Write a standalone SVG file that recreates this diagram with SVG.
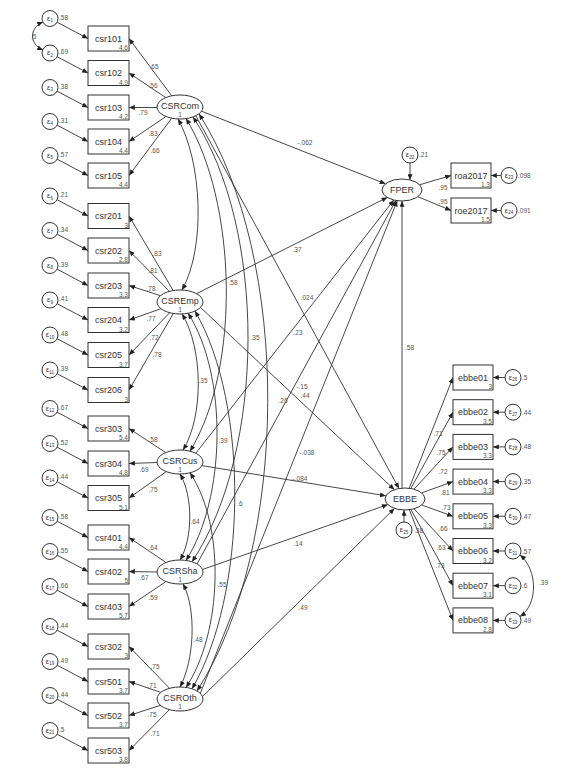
<svg xmlns="http://www.w3.org/2000/svg" width="566" height="773" viewBox="0 0 566 773">
<defs>
<marker id="ah" viewBox="0 0 7 6" refX="7" refY="3" markerWidth="6" markerHeight="5" markerUnits="userSpaceOnUse" orient="auto-start-reverse"><path d="M0,0 L7,3 L0,6 z" fill="#222"/></marker>
</defs>
<style>
.ln{stroke:#333;stroke-width:0.9;fill:none;marker-end:url(#ah)}
.cv{stroke:#333;stroke-width:0.9;fill:none;marker-start:url(#ah);marker-end:url(#ah)}
.bx{fill:#fff;stroke:#333;stroke-width:1}
.el{fill:#fff;stroke:#333;stroke-width:1}
.t{font-family:"Liberation Sans",Arial,sans-serif;font-size:9px;fill:#333;text-anchor:middle}
.e{font-family:"Liberation Sans",Arial,sans-serif;font-size:7.5px;fill:#333;text-anchor:middle}
.s{font-size:4.5px}
.n{font-family:"Liberation Sans",Arial,sans-serif;font-size:6.5px;fill:#555}
.c{text-anchor:middle}
.r{text-anchor:end}
</style>
<rect width="566" height="773" fill="#fff"/>
<g id="connectors">
<path class="ln" d="M57.1,22.2 L88,38.5"/>
<path class="ln" d="M57.1,56.7 L88,73"/>
<path class="ln" d="M57.1,91.2 L88,107.5"/>
<path class="ln" d="M57.1,125.2 L88,141.5"/>
<path class="ln" d="M57.1,159.2 L88,175.5"/>
<path class="ln" d="M57.1,199.7 L88,216"/>
<path class="ln" d="M57.1,234.2 L88,250.5"/>
<path class="ln" d="M57.1,269.2 L88,285.5"/>
<path class="ln" d="M57.1,303.7 L88,320"/>
<path class="ln" d="M57.1,338.7 L88,355"/>
<path class="ln" d="M57.1,373.7 L88,390"/>
<path class="ln" d="M57.1,412.2 L88,428.5"/>
<path class="ln" d="M57.1,447.2 L88,463.5"/>
<path class="ln" d="M57.1,481.7 L88,498"/>
<path class="ln" d="M57.1,521.2 L88,537.5"/>
<path class="ln" d="M57.1,555.2 L88,571.5"/>
<path class="ln" d="M57.1,590.2 L88,606.5"/>
<path class="ln" d="M57.1,630.2 L88,646.5"/>
<path class="ln" d="M57.1,665.2 L88,681.5"/>
<path class="ln" d="M57.1,699.2 L88,715.5"/>
<path class="ln" d="M57.1,734.2 L88,750.5"/>
<path class="cv" d="M43,22 C29,28 29,44 43,50"/>
<path class="ln" d="M171.7,95.8 L129,38.5"/>
<path class="ln" d="M165.8,97.6 L129,73"/>
<path class="ln" d="M157,107.5 L129,107.5"/>
<path class="ln" d="M165.8,116.6 L129,141.5"/>
<path class="ln" d="M171.7,118.2 L129,175.5"/>
<path class="ln" d="M173.2,290.5 L129,216"/>
<path class="ln" d="M169.4,291.3 L129,250.5"/>
<path class="ln" d="M160.5,295.7 L129,285.5"/>
<path class="ln" d="M161,308.7 L129,320"/>
<path class="ln" d="M169.7,312.7 L129,355"/>
<path class="ln" d="M173.3,313.5 L129,390"/>
<path class="ln" d="M165.7,452.6 L129,428.5"/>
<path class="ln" d="M157,462.5 L129,463.5"/>
<path class="ln" d="M166.3,471.6 L129,498"/>
<path class="ln" d="M165.8,562.4 L129,537.5"/>
<path class="ln" d="M157,572 L129,571.5"/>
<path class="ln" d="M165.8,581.6 L129,606.5"/>
<path class="ln" d="M169.6,688.3 L129,646.5"/>
<path class="ln" d="M160.8,692.4 L129,681.5"/>
<path class="ln" d="M160.5,705.3 L129,715.5"/>
<path class="ln" d="M169.4,709.7 L129,750.5"/>
<path class="cv" d="M178,119 C202,161.75 206,247.25 182,290"/>
<path class="cv" d="M186,118.5 C237,201.5 241,368 190,451.2"/>
<path class="cv" d="M193,117 C267,228 266,450.8 192,561.8"/>
<path class="cv" d="M199,114 C292,258 290,547 197,690.9"/>
<path class="cv" d="M182,313.9 C203,348 204,416 183,450.1"/>
<path class="cv" d="M188,313.2 C228,375 226,498.4 186,560.4"/>
<path class="cv" d="M195,311.1 C250,405 247,594.8 192,688.8"/>
<path class="cv" d="M180,474 C193,495.5 193,538.5 180,560"/>
<path class="cv" d="M190,472.8 C226,526.8 222,633.4 186,687.4"/>
<path class="cv" d="M183,583.9 C197,610 194,661 180,687"/>
<path class="ln" d="M201,111 L385.5,183.8"/>
<path class="ln" d="M196,116 L399,488.5"/>
<path class="ln" d="M196.5,293.7 L387.3,197.4"/>
<path class="ln" d="M200,307 L394.4,489.7"/>
<path class="ln" d="M196,453 L393.8,200"/>
<path class="ln" d="M201.9,465.6 L385.8,495.8"/>
<path class="ln" d="M197,564 L395.9,200.5"/>
<path class="ln" d="M201,570 L387.8,504.6"/>
<path class="ln" d="M200,694 L397.3,200.7"/>
<path class="ln" d="M202,697 L394.5,508.4"/>
<path class="ln" d="M402,488.2 L402,201"/>
<path class="ln" d="M410,163 L410,180"/>
<path class="ln" d="M419.6,184.8 L451,175.5"/>
<path class="ln" d="M417.9,196.7 L451,210.5"/>
<path class="ln" d="M501,175.5 L491,175.5"/>
<path class="ln" d="M501,210.5 L491,210.5"/>
<path class="ln" d="M404,522 L404,510"/>
<path class="ln" d="M409.2,488.2 L453,377.5"/>
<path class="ln" d="M410.8,488.5 L453,412.2"/>
<path class="ln" d="M414,489.2 L453,446.9"/>
<path class="ln" d="M421.6,492.9 L453,481.6"/>
<path class="ln" d="M421.8,505 L453,516.3"/>
<path class="ln" d="M414.1,508.8 L453,551"/>
<path class="ln" d="M410.9,509.5 L453,585.7"/>
<path class="ln" d="M409.3,509.7 L453,620.4"/>
<path class="ln" d="M505,377.5 L493,377.5"/>
<path class="ln" d="M505,412.2 L493,412.2"/>
<path class="ln" d="M505,446.9 L493,446.9"/>
<path class="ln" d="M505,481.6 L493,481.6"/>
<path class="ln" d="M505,516.3 L493,516.3"/>
<path class="ln" d="M505,551 L493,551"/>
<path class="ln" d="M505,585.7 L493,585.7"/>
<path class="ln" d="M505,620.4 L493,620.4"/>
<path class="cv" d="M520,555 C538,570 538,605 520,616.5"/>
</g>
<g id="csr101"><rect class="bx" x="88" y="26" width="41" height="25"/><text class="t" x="108.5" y="41.5">csr101</text><text class="n r" x="128" y="50">4.6</text></g>
<g id="csr102"><rect class="bx" x="88" y="60.5" width="41" height="25"/><text class="t" x="108.5" y="76">csr102</text><text class="n r" x="128" y="84.5">4.9</text></g>
<g id="csr103"><rect class="bx" x="88" y="95" width="41" height="25"/><text class="t" x="108.5" y="110.5">csr103</text><text class="n r" x="128" y="119">4.2</text></g>
<g id="csr104"><rect class="bx" x="88" y="129" width="41" height="25"/><text class="t" x="108.5" y="144.5">csr104</text><text class="n r" x="128" y="153">4.4</text></g>
<g id="csr105"><rect class="bx" x="88" y="163" width="41" height="25"/><text class="t" x="108.5" y="178.5">csr105</text><text class="n r" x="128" y="187">4.4</text></g>
<g id="csr201"><rect class="bx" x="88" y="203.5" width="41" height="25"/><text class="t" x="108.5" y="219">csr201</text><text class="n r" x="128" y="227.5">3</text></g>
<g id="csr202"><rect class="bx" x="88" y="238" width="41" height="25"/><text class="t" x="108.5" y="253.5">csr202</text><text class="n r" x="128" y="262">2.8</text></g>
<g id="csr203"><rect class="bx" x="88" y="273" width="41" height="25"/><text class="t" x="108.5" y="288.5">csr203</text><text class="n r" x="128" y="297">3.3</text></g>
<g id="csr204"><rect class="bx" x="88" y="307.5" width="41" height="25"/><text class="t" x="108.5" y="323">csr204</text><text class="n r" x="128" y="331.5">3.2</text></g>
<g id="csr205"><rect class="bx" x="88" y="342.5" width="41" height="25"/><text class="t" x="108.5" y="358">csr205</text><text class="n r" x="128" y="366.5">3.7</text></g>
<g id="csr206"><rect class="bx" x="88" y="377.5" width="41" height="25"/><text class="t" x="108.5" y="393">csr206</text><text class="n r" x="128" y="401.5">3</text></g>
<g id="csr303"><rect class="bx" x="88" y="416" width="41" height="25"/><text class="t" x="108.5" y="431.5">csr303</text><text class="n r" x="128" y="440">5.4</text></g>
<g id="csr304"><rect class="bx" x="88" y="451" width="41" height="25"/><text class="t" x="108.5" y="466.5">csr304</text><text class="n r" x="128" y="475">4.8</text></g>
<g id="csr305"><rect class="bx" x="88" y="485.5" width="41" height="25"/><text class="t" x="108.5" y="501">csr305</text><text class="n r" x="128" y="509.5">5.1</text></g>
<g id="csr401"><rect class="bx" x="88" y="525" width="41" height="25"/><text class="t" x="108.5" y="540.5">csr401</text><text class="n r" x="128" y="549">4.4</text></g>
<g id="csr402"><rect class="bx" x="88" y="559" width="41" height="25"/><text class="t" x="108.5" y="574.5">csr402</text><text class="n r" x="128" y="583">5</text></g>
<g id="csr403"><rect class="bx" x="88" y="594" width="41" height="25"/><text class="t" x="108.5" y="609.5">csr403</text><text class="n r" x="128" y="618">5.7</text></g>
<g id="csr302"><rect class="bx" x="88" y="634" width="41" height="25"/><text class="t" x="108.5" y="649.5">csr302</text><text class="n r" x="128" y="658">3</text></g>
<g id="csr501"><rect class="bx" x="88" y="669" width="41" height="25"/><text class="t" x="108.5" y="684.5">csr501</text><text class="n r" x="128" y="693">3.7</text></g>
<g id="csr502"><rect class="bx" x="88" y="703" width="41" height="25"/><text class="t" x="108.5" y="718.5">csr502</text><text class="n r" x="128" y="727">3.7</text></g>
<g id="csr503"><rect class="bx" x="88" y="738" width="41" height="25"/><text class="t" x="108.5" y="753.5">csr503</text><text class="n r" x="128" y="762">3.8</text></g>
<g id="e1"><circle class="el" cx="50" cy="18.5" r="8"/><text class="e" x="50" y="20.5">ε<tspan class="s" dy="1.5">1</tspan></text><text class="n" x="59" y="19.5">.58</text></g>
<g id="e2"><circle class="el" cx="50" cy="53" r="8"/><text class="e" x="50" y="55">ε<tspan class="s" dy="1.5">2</tspan></text><text class="n" x="59" y="54">.69</text></g>
<g id="e3"><circle class="el" cx="50" cy="87.5" r="8"/><text class="e" x="50" y="89.5">ε<tspan class="s" dy="1.5">3</tspan></text><text class="n" x="59" y="88.5">.38</text></g>
<g id="e4"><circle class="el" cx="50" cy="121.5" r="8"/><text class="e" x="50" y="123.5">ε<tspan class="s" dy="1.5">4</tspan></text><text class="n" x="59" y="122.5">.31</text></g>
<g id="e5"><circle class="el" cx="50" cy="155.5" r="8"/><text class="e" x="50" y="157.5">ε<tspan class="s" dy="1.5">5</tspan></text><text class="n" x="59" y="156.5">.57</text></g>
<g id="e6"><circle class="el" cx="50" cy="196" r="8"/><text class="e" x="50" y="198">ε<tspan class="s" dy="1.5">6</tspan></text><text class="n" x="59" y="197">.21</text></g>
<g id="e7"><circle class="el" cx="50" cy="230.5" r="8"/><text class="e" x="50" y="232.5">ε<tspan class="s" dy="1.5">7</tspan></text><text class="n" x="59" y="231.5">.34</text></g>
<g id="e8"><circle class="el" cx="50" cy="265.5" r="8"/><text class="e" x="50" y="267.5">ε<tspan class="s" dy="1.5">8</tspan></text><text class="n" x="59" y="266.5">.39</text></g>
<g id="e9"><circle class="el" cx="50" cy="300" r="8"/><text class="e" x="50" y="302">ε<tspan class="s" dy="1.5">9</tspan></text><text class="n" x="59" y="301">.41</text></g>
<g id="e10"><circle class="el" cx="50" cy="335" r="8"/><text class="e" x="50" y="337">ε<tspan class="s" dy="1.5">10</tspan></text><text class="n" x="59" y="336">.48</text></g>
<g id="e11"><circle class="el" cx="50" cy="370" r="8"/><text class="e" x="50" y="372">ε<tspan class="s" dy="1.5">11</tspan></text><text class="n" x="59" y="371">.39</text></g>
<g id="e12"><circle class="el" cx="50" cy="408.5" r="8"/><text class="e" x="50" y="410.5">ε<tspan class="s" dy="1.5">12</tspan></text><text class="n" x="59" y="409.5">.67</text></g>
<g id="e13"><circle class="el" cx="50" cy="443.5" r="8"/><text class="e" x="50" y="445.5">ε<tspan class="s" dy="1.5">13</tspan></text><text class="n" x="59" y="444.5">.52</text></g>
<g id="e14"><circle class="el" cx="50" cy="478" r="8"/><text class="e" x="50" y="480">ε<tspan class="s" dy="1.5">14</tspan></text><text class="n" x="59" y="479">.44</text></g>
<g id="e15"><circle class="el" cx="50" cy="517.5" r="8"/><text class="e" x="50" y="519.5">ε<tspan class="s" dy="1.5">15</tspan></text><text class="n" x="59" y="518.5">.58</text></g>
<g id="e16"><circle class="el" cx="50" cy="551.5" r="8"/><text class="e" x="50" y="553.5">ε<tspan class="s" dy="1.5">16</tspan></text><text class="n" x="59" y="552.5">.55</text></g>
<g id="e17"><circle class="el" cx="50" cy="586.5" r="8"/><text class="e" x="50" y="588.5">ε<tspan class="s" dy="1.5">17</tspan></text><text class="n" x="59" y="587.5">.66</text></g>
<g id="e18"><circle class="el" cx="50" cy="626.5" r="8"/><text class="e" x="50" y="628.5">ε<tspan class="s" dy="1.5">18</tspan></text><text class="n" x="59" y="627.5">.44</text></g>
<g id="e19"><circle class="el" cx="50" cy="661.5" r="8"/><text class="e" x="50" y="663.5">ε<tspan class="s" dy="1.5">19</tspan></text><text class="n" x="59" y="662.5">.49</text></g>
<g id="e20"><circle class="el" cx="50" cy="695.5" r="8"/><text class="e" x="50" y="697.5">ε<tspan class="s" dy="1.5">20</tspan></text><text class="n" x="59" y="696.5">.44</text></g>
<g id="e21"><circle class="el" cx="50" cy="730.5" r="8"/><text class="e" x="50" y="732.5">ε<tspan class="s" dy="1.5">21</tspan></text><text class="n" x="59" y="731.5">.5</text></g>
<g id="CSRCom"><ellipse class="el" cx="180" cy="107" rx="23" ry="12"/><text class="t" x="180" y="109">CSRCom</text><text class="n c" x="180" y="117">1</text></g>
<g id="CSREmp"><ellipse class="el" cx="180" cy="302" rx="23" ry="12"/><text class="t" x="180" y="304">CSREmp</text><text class="n c" x="180" y="312">1</text></g>
<g id="CSRCus"><ellipse class="el" cx="180" cy="462" rx="23" ry="12"/><text class="t" x="180" y="464">CSRCus</text><text class="n c" x="180" y="472">1</text></g>
<g id="CSRSha"><ellipse class="el" cx="180" cy="572" rx="23" ry="12"/><text class="t" x="180" y="574">CSRSha</text><text class="n c" x="180" y="582">1</text></g>
<g id="CSROth"><ellipse class="el" cx="180" cy="699" rx="23" ry="12"/><text class="t" x="180" y="701">CSROth</text><text class="n c" x="180" y="709">1</text></g>
<g id="FPER"><ellipse class="el" cx="402" cy="190" rx="20" ry="11"/><text class="t" x="402" y="193">FPER</text></g>
<g id="EBBE"><ellipse class="el" cx="405" cy="499" rx="20" ry="11"/><text class="t" x="405" y="502">EBBE</text></g>
<g id="roa2017"><rect class="bx" x="451" y="163" width="40" height="25"/><text class="t" x="471" y="178.5">roa2017</text><text class="n r" x="490" y="187">1.3</text></g>
<g id="roe2017"><rect class="bx" x="451" y="198" width="40" height="25"/><text class="t" x="471" y="213.5">roe2017</text><text class="n r" x="490" y="222">1.5</text></g>
<g id="e22"><circle class="el" cx="410" cy="155" r="8"/><text class="e" x="410" y="157">ε<tspan class="s" dy="1.5">22</tspan></text><text class="n" x="419" y="157">.21</text></g>
<g id="e23"><circle class="el" cx="509" cy="175.5" r="8"/><text class="e" x="509" y="177.5">ε<tspan class="s" dy="1.5">23</tspan></text><text class="n" x="518" y="178">.098</text></g>
<g id="e24"><circle class="el" cx="509" cy="210.5" r="8"/><text class="e" x="509" y="212.5">ε<tspan class="s" dy="1.5">24</tspan></text><text class="n" x="518" y="213">.091</text></g>
<g id="e25"><circle class="el" cx="404" cy="530" r="8"/><text class="e" x="404" y="532">ε<tspan class="s" dy="1.5">25</tspan></text><text class="n" x="414" y="532.5">.38</text></g>
<g id="ebbe01"><rect class="bx" x="453" y="365" width="40" height="25"/><text class="t" x="473" y="380.5">ebbe01</text><text class="n r" x="492" y="389">3</text></g>
<g id="ebbe02"><rect class="bx" x="453" y="399.7" width="40" height="25"/><text class="t" x="473" y="415.2">ebbe02</text><text class="n r" x="492" y="423.7">3.5</text></g>
<g id="ebbe03"><rect class="bx" x="453" y="434.4" width="40" height="25"/><text class="t" x="473" y="449.9">ebbe03</text><text class="n r" x="492" y="458.4">3.3</text></g>
<g id="ebbe04"><rect class="bx" x="453" y="469.1" width="40" height="25"/><text class="t" x="473" y="484.6">ebbe04</text><text class="n r" x="492" y="493.1">3.3</text></g>
<g id="ebbe05"><rect class="bx" x="453" y="503.8" width="40" height="25"/><text class="t" x="473" y="519.3">ebbe05</text><text class="n r" x="492" y="527.8">3.3</text></g>
<g id="ebbe06"><rect class="bx" x="453" y="538.5" width="40" height="25"/><text class="t" x="473" y="554">ebbe06</text><text class="n r" x="492" y="562.5">3.2</text></g>
<g id="ebbe07"><rect class="bx" x="453" y="573.2" width="40" height="25"/><text class="t" x="473" y="588.7">ebbe07</text><text class="n r" x="492" y="597.2">3.1</text></g>
<g id="ebbe08"><rect class="bx" x="453" y="607.9" width="40" height="25"/><text class="t" x="473" y="623.4">ebbe08</text><text class="n r" x="492" y="631.9">2.8</text></g>
<g id="e26"><circle class="el" cx="513" cy="377.5" r="8"/><text class="e" x="513" y="379.5">ε<tspan class="s" dy="1.5">26</tspan></text><text class="n" x="522" y="380">.5</text></g>
<g id="e27"><circle class="el" cx="513" cy="412.2" r="8"/><text class="e" x="513" y="414.2">ε<tspan class="s" dy="1.5">27</tspan></text><text class="n" x="522" y="414.7">.44</text></g>
<g id="e28"><circle class="el" cx="513" cy="446.9" r="8"/><text class="e" x="513" y="448.9">ε<tspan class="s" dy="1.5">28</tspan></text><text class="n" x="522" y="449.4">.48</text></g>
<g id="e29"><circle class="el" cx="513" cy="481.6" r="8"/><text class="e" x="513" y="483.6">ε<tspan class="s" dy="1.5">29</tspan></text><text class="n" x="522" y="484.1">.35</text></g>
<g id="e30"><circle class="el" cx="513" cy="516.3" r="8"/><text class="e" x="513" y="518.3">ε<tspan class="s" dy="1.5">30</tspan></text><text class="n" x="522" y="518.8">.47</text></g>
<g id="e31"><circle class="el" cx="513" cy="551" r="8"/><text class="e" x="513" y="553">ε<tspan class="s" dy="1.5">31</tspan></text><text class="n" x="522" y="553.5">.57</text></g>
<g id="e32"><circle class="el" cx="513" cy="585.7" r="8"/><text class="e" x="513" y="587.7">ε<tspan class="s" dy="1.5">32</tspan></text><text class="n" x="522" y="588.2">.6</text></g>
<g id="e33"><circle class="el" cx="513" cy="620.4" r="8"/><text class="e" x="513" y="622.4">ε<tspan class="s" dy="1.5">33</tspan></text><text class="n" x="522" y="622.9">.49</text></g>
<g id="labels" class="n">
<text x="31" y="39">.5</text>
<g class="c">
<text x="154" y="68.5">.65</text>
<text x="153" y="87.5">.56</text>
<text x="143" y="114.5">.79</text>
<text x="153" y="135.5">.83</text>
<text x="155" y="152.5">.66</text>
<text x="157" y="255.5">.83</text>
<text x="153" y="272.5">.81</text>
<text x="151" y="290.5">.78</text>
<text x="151" y="320.5">.77</text>
<text x="154" y="339.5">.72</text>
<text x="157" y="356.5">.78</text>
<text x="153" y="441.5">.58</text>
<text x="144" y="471.5">.69</text>
<text x="153" y="491.5">.75</text>
<text x="153" y="549.5">.64</text>
<text x="144" y="579.5">.67</text>
<text x="153" y="599.5">.59</text>
<text x="155" y="668.5">.75</text>
<text x="152" y="687.5">.71</text>
<text x="152" y="716.5">.75</text>
<text x="155" y="735.5">.71</text>
<text x="305" y="144.5">-.062</text>
<text x="297" y="251.5">.37</text>
<text x="307" y="299.5">.024</text>
<text x="298" y="334.5">.23</text>
<text x="302" y="389">-.15</text>
<text x="305" y="398">.44</text>
<text x="283" y="402.5">.26</text>
<text x="307" y="454.5">-.038</text>
<text x="300" y="480.5">-.084</text>
<text x="298" y="545.5">.14</text>
<text x="303" y="609.5">.49</text>
<text x="233" y="284.5">.58</text>
<text x="255" y="339.5">.35</text>
<text x="203" y="382.5">.35</text>
<text x="223" y="442.5">.39</text>
<text x="240" y="505.5">.6</text>
<text x="195" y="523.5">.64</text>
<text x="222" y="586.5">.55</text>
<text x="198" y="641.5">.48</text>
<text x="443" y="189.5">.95</text>
<text x="443" y="203.5">.95</text>
<text x="438" y="435.5">.71</text>
<text x="441" y="454.5">.75</text>
<text x="443" y="473.5">.72</text>
<text x="445" y="494.5">.81</text>
<text x="446" y="509.5">.73</text>
<text x="443" y="530.5">.66</text>
<text x="441" y="549.5">.63</text>
<text x="440" y="567.5">.73</text>
</g>
<text x="405" y="350">.58</text>
<text x="539" y="585">.39</text>
</g>
</svg>
